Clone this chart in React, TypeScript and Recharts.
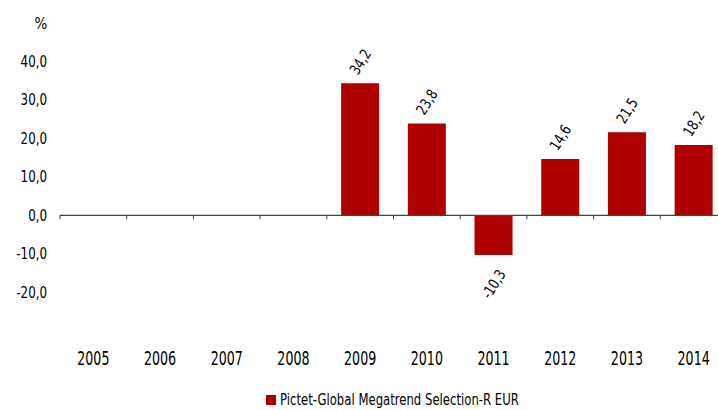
import React from 'react';
import {
  BarChart, Bar, XAxis, YAxis, Legend, LabelList, ReferenceLine
} from 'recharts';

const years = ['2005', '2006', '2007', '2008', '2009', '2010', '2011', '2012', '2013', '2014'];
const returns: (number | null)[] = [null, null, null, null, 34.2, 23.8, -10.3, 14.6, 21.5, 18.2];
const yTicks = [-20, -10, 0, 10, 20, 30, 40];
const seriesName = 'Pictet-Global Megatrend Selection-R EUR';

const data = years.map((year, i) => ({ year, value: returns[i] }));

const FONT = "'DejaVu Sans Condensed', 'Liberation Sans Narrow', 'DejaVu Sans', sans-serif";
const RED = '#ae0000';

const fmt = (v: number) => v.toFixed(1).replace('.', ',');

// the source uses a narrow face, so squeeze the glyphs horizontally
const XTick = (props: any) => {
  const { x, y, payload } = props;
  return (
    <text
      transform={`translate(${x},${y + 28}) scale(0.74,1)`}
      textAnchor="middle"
      fontSize={19}
      fontFamily={FONT}
      fill="#000"
    >
      {payload.value}
    </text>
  );
};

const YTick = (props: any) => {
  const { x, y, payload } = props;
  return (
    <text
      transform={`translate(${x},${y + 5.5}) scale(0.88,1)`}
      textAnchor="end"
      fontSize={15}
      fontFamily={FONT}
      fill="#000"
    >
      {fmt(payload.value)}
    </text>
  );
};

// rotated value label, above positive bars and below negative ones
const ValueLabel = (props: any) => {
  const { x, y, width, height, value } = props;
  if (value === null || value === undefined) return null;
  const text = fmt(value);
  const cx = x + width / 2;
  const top = Math.min(y, y + height);
  const bottom = Math.max(y, y + height);
  const neg = value < 0;
  const cy = neg ? bottom + 12 + text.length * 3.4 : top - 8 - text.length * 3.4;
  return (
    <text
      transform={`translate(${cx},${cy}) rotate(-58) scale(0.88,1)`}
      textAnchor="middle"
      dominantBaseline="central"
      fontSize={15}
      fontFamily={FONT}
      fill="#000"
    >
      {text}
    </text>
  );
};

// zero line with small tick marks between the categories
const ZeroAxis = (props: any) => {
  const { x1, y1, x2 } = props;
  const step = (x2 - x1) / years.length;
  const marks = [];
  for (let i = 0; i <= years.length; i++) {
    const tx = x1 + i * step;
    marks.push(<line key={i} x1={tx} x2={tx} y1={y1} y2={y1 + 4} stroke="#444" strokeWidth={1} />);
  }
  return (
    <g>
      <line x1={x1} x2={x2} y1={y1} y2={y1} stroke="#444" strokeWidth={1.2} />
      {marks}
    </g>
  );
};

const LegendContent = () => (
  <div style={{ display: 'flex', alignItems: 'center', fontFamily: FONT, fontSize: 15, color: '#000', height: 18, lineHeight: '18px', whiteSpace: 'nowrap' }}>
    <span style={{ display: 'inline-block', width: 10, height: 10, background: RED, marginRight: 4 }} />
    <span style={{ display: 'inline-block', transform: 'scaleX(0.865)', transformOrigin: 'left center' }}>{seriesName}</span>
  </div>
);

const App: React.FC = () => {
  return (
    <div style={{ position: 'absolute', left: 0, top: 0, width: 718, height: 410, overflow: 'hidden', background: '#fff' }}>
      <BarChart
        width={728}
        height={410}
        data={data}
        margin={{ top: 61, right: 1, bottom: 31, left: 0 }}
        barCategoryGap="21.5%"
      >
        <XAxis
          dataKey="year"
          axisLine={false}
          tickLine={false}
          height={30}
          tickMargin={0}
          tick={<XTick />}
          interval={0}
        />
        <YAxis
          width={60}
          domain={[-30, 40]}
          ticks={yTicks}
          axisLine={false}
          tickLine={false}
          tickMargin={7}
          tick={<YTick />}
          label={{ value: '%', position: 'top', offset: 32, dx: 11, fontSize: 15, fontFamily: FONT, fill: '#000' }}
        />
        <ReferenceLine y={0} shape={<ZeroAxis />} />
        <Legend
          verticalAlign="bottom"
          content={<LegendContent />}
          wrapperStyle={{ left: 266, top: 391, width: 300, height: 18 }}
        />
        <Bar dataKey="value" name={seriesName} fill={RED} isAnimationActive={false}>
          <LabelList dataKey="value" content={<ValueLabel />} />
        </Bar>
      </BarChart>
    </div>
  );
};

export default App;
